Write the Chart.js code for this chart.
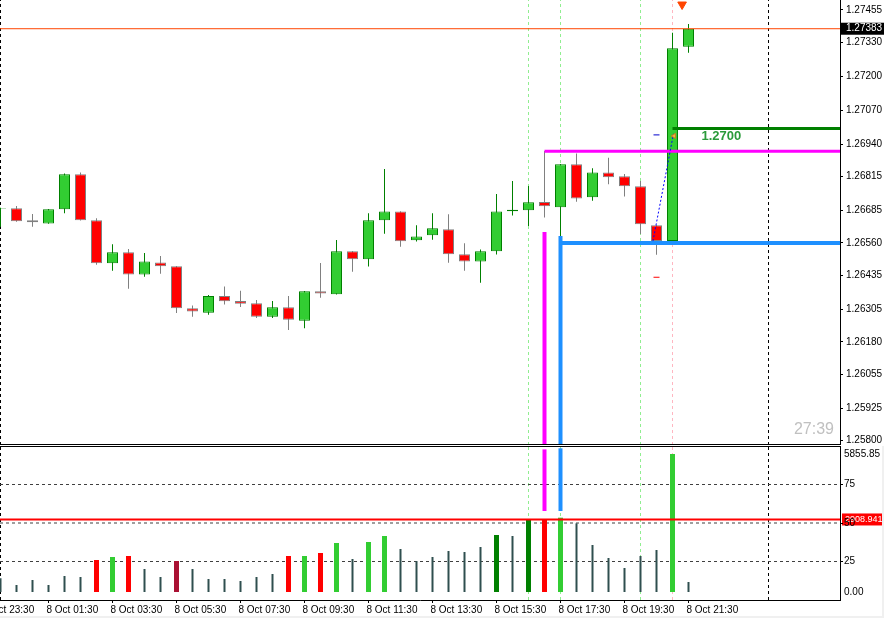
<!DOCTYPE html>
<html>
<head>
<meta charset="utf-8">
<script src="https://cdn.jsdelivr.net/npm/chart.js@4.4.1/dist/chart.umd.min.js"></script>
<style>
  html, body { margin: 0; padding: 0; background: #fff; }
  #wrap { position: relative; width: 884px; height: 618px; overflow: hidden; background: #fff; }
  #pricechart { position: absolute; left: 0; top: 0; }
  #volchart { position: absolute; left: 0; top: 446px; }
  #edgeB { position: absolute; left: 0; top: 616px; width: 884px; height: 2px; background: #f0f0f0; }
  #edgeR { position: absolute; left: 882px; top: 446px; width: 2px; height: 172px; background: #f0f0f0; }
</style>
</head>
<body>
<div id="wrap">
  <canvas id="pricechart" width="884" height="445"></canvas>
  <canvas id="volchart" width="884" height="172"></canvas>
  <div id="edgeB"></div>
  <div id="edgeR"></div>
</div>
<script>
// M30 bars, 8 Oct 00:00 .. 21:30
var opens  = [1.26692,1.26693,1.26647,1.26635,1.26689,1.26824,1.26647,1.26482,1.26524,1.26439,1.26485,1.26470,1.26309,1.26292,1.26356,1.26337,1.26328,1.26276,1.26313,1.26261,1.26374,1.26363,1.26528,1.26497,1.26647,1.26681,1.26570,1.26589,1.26612,1.26516,1.26489,1.26528,1.26682,1.26685,1.26717,1.26697,1.26862,1.26735,1.26831,1.26816,1.26778,1.26628,1.26567,1.27314];
var closes = [1.26694,1.26643,1.26639,1.26689,1.26824,1.26647,1.26482,1.26524,1.26439,1.26489,1.26470,1.26309,1.26296,1.26356,1.26336,1.26326,1.26276,1.26313,1.26265,1.26374,1.26366,1.26528,1.26497,1.26647,1.26681,1.26566,1.26585,1.26616,1.26516,1.26489,1.26528,1.26681,1.26687,1.26716,1.26701,1.26862,1.26731,1.26831,1.26812,1.26778,1.26632,1.26567,1.27308,1.27383];
var highs  = [1.26695,1.26702,1.26671,1.26690,1.26827,1.26831,1.26655,1.26555,1.26537,1.26521,1.26510,1.26471,1.26319,1.26360,1.26392,1.26376,1.26341,1.26337,1.26356,1.26375,1.26483,1.26571,1.26529,1.26674,1.26844,1.26682,1.26628,1.26674,1.26670,1.26559,1.26535,1.26748,1.26798,1.26779,1.26913,1.26863,1.26904,1.26847,1.26887,1.26825,1.26798,1.26629,1.27368,1.27401];
var lows   = [1.26622,1.26641,1.26622,1.26634,1.26674,1.26646,1.26476,1.26453,1.26384,1.26430,1.26441,1.26291,1.26276,1.26284,1.26323,1.26314,1.26271,1.26271,1.26225,1.26232,1.26349,1.26362,1.26449,1.26469,1.26595,1.26545,1.26565,1.26572,1.26484,1.26453,1.26407,1.26515,1.26665,1.26625,1.26658,1.26587,1.26718,1.26722,1.26785,1.26738,1.26594,1.26514,1.26566,1.27291];

var volumes = [549,281,481,281,642,602,1283,1404,1444,922,602,1243,922,521,521,441,602,722,1444,1444,1564,1965,1324,2005,2246,1725,1243,1404,1644,1604,1805,2286,2246,2900,2900,2981,2754,1885,1364,963,1444,1685,5535,401];
// n = plain, r = red, g = lime, dg = dark green, cr = crimson
var volKinds = ['n','n','n','n','n','n','r','g','r','n','n','cr','n','n','n','n','n','n','r','g','r','g','n','g','g','n','n','n','n','n','n','dg','n','dg','r','g','n','n','n','n','n','n','g','n'];

var priceTicks = [1.27455,1.27330,1.27200,1.27070,1.26940,1.26815,1.26685,1.26560,1.26435,1.26305,1.26180,1.26055,1.25925,1.25800];
var timeTickBars = [-1,3,7,11,15,19,23,27,31,35,39,43];
var timeLabels = ['7 Oct 23:30','8 Oct 01:30','8 Oct 03:30','8 Oct 05:30','8 Oct 07:30','8 Oct 09:30','8 Oct 11:30','8 Oct 13:30','8 Oct 15:30','8 Oct 17:30','8 Oct 19:30','8 Oct 21:30'];
var oscTicks = [25,50,75];

var bidPrice = 1.27383;
var targetLevel = 1.27000;
var magentaLevel = 1.26912;
var blueLevel = 1.26560;
var volLevel = 2908.941;
var volTop = 5855.85;

var xMin = -0.03125, xMax = 52.46875;
var yMin = 1.257834, yMax = 1.274934;
var volMin = -320.9;

Chart.defaults.font.family = '"Liberation Sans", Arial, sans-serif';
Chart.defaults.font.size = 10;
Chart.defaults.color = '#000';

function seg(x1, y1, x2, y2, color, width, dash, order, axis) {
  return {
    type: 'line',
    data: [{x: x1, y: y1}, {x: x2, y: y2}],
    borderColor: color, borderWidth: width, borderDash: dash || [],
    pointRadius: 0, fill: false, order: order, yAxisID: axis || 'y'
  };
}

function separators(lo, hi, axis) {
  return [
    seg(0, lo, 0, hi, '#000', 1, [3, 3], 20, axis),
    seg(48, lo, 48, hi, '#000', 1, [3, 3], 20, axis),
    seg(33, lo, 33, hi, '#90ee90', 1, [3, 3], 20, axis),
    seg(35, lo, 35, hi, '#90ee90', 1, [3, 3], 20, axis),
    seg(40, lo, 40, hi, '#90ee90', 1, [3, 3], 20, axis),
    seg(42, lo, 42, hi, '#ffb6c1', 1, [3, 3], 20, axis)
  ];
}

function noPad(s) {
  s.paddingTop = 0; s.paddingBottom = 0; s.paddingLeft = 0; s.paddingRight = 0;
}

var bull = opens.map(function (o, i) { return closes[i] >= o; });

var mainDatasets = separators(yMin, yMax).concat([
  {
    type: 'bar',
    data: highs.map(function (h, i) { return {x: i, y: [lows[i], h]}; }),
    backgroundColor: bull.map(function (b) { return b ? '#008000' : '#808080'; }),
    borderWidth: 0, barThickness: 1, grouped: false, inflateAmount: 0, order: 6
  },
  {
    type: 'bar',
    data: opens.map(function (o, i) { return {x: i, y: [o, closes[i]]}; }),
    backgroundColor: bull.map(function (b) { return b ? '#32cd32' : '#ff0000'; }),
    borderColor: bull.map(function (b) { return b ? '#008000' : '#808080'; }),
    borderWidth: 1, borderSkipped: false, barThickness: 11, grouped: false, inflateAmount: 0, order: 5
  },
  seg(xMin, bidPrice, xMax, bidPrice, '#ff4500', 1, [], 4),
  seg(34, 1.26602, 34, yMin, '#ff00ff', 4, [], 3),
  seg(34, magentaLevel, xMax, magentaLevel, '#ff00ff', 3, [], 3),
  seg(35, 1.26587, 35, yMin, '#1e90ff', 4, [], 3),
  seg(35, blueLevel, xMax, blueLevel, '#1e90ff', 4, [], 3),
  seg(42, targetLevel, xMax, targetLevel, '#008000', 3, [], 3),
  seg(40.78, 1.26567, 42.06, 1.26979, '#0000ff', 1, [2, 2], 2),
  {
    type: 'scatter',
    data: [{x: 41, y: 1.26975}],
    pointStyle: 'line', pointRadius: 3, borderColor: '#0000cc', borderWidth: 1, order: 1
  },
  {
    type: 'scatter',
    data: [{x: 41, y: 1.26428}],
    pointStyle: 'line', pointRadius: 3, borderColor: '#ff0000', borderWidth: 1, order: 1
  },
  {
    type: 'scatter',
    data: [{x: 42.6, y: 1.27476}],
    pointStyle: 'triangle', rotation: 180, pointRadius: 5,
    backgroundColor: '#ff4500', borderColor: '#ff4500', borderWidth: 1, order: 1, clip: false
  },
  {
    type: 'scatter',
    data: [{x: 42.1, y: 1.26971}],
    pointStyle: 'triangle', rotation: 270, pointRadius: 3,
    backgroundColor: '#f0b040', borderColor: '#c08020', borderWidth: 1, order: 1
  }
]);

var mainExtras = {
  id: 'mainExtras',
  afterDraw: function (chart) {
    var ctx = chart.ctx, ys = chart.scales.y, xs = chart.scales.x, a = chart.chartArea;
    ctx.save();
    // bottom frame line
    ctx.fillStyle = '#000';
    ctx.fillRect(0, a.bottom - 1, a.right, 1);
    // bid price box
    var py = ys.getPixelForValue(bidPrice);
    ctx.fillRect(a.right + 1, py - 6, 44, 12);
    ctx.fillStyle = '#fff';
    ctx.font = '10px "Liberation Sans"';
    ctx.textBaseline = 'middle';
    ctx.textAlign = 'left';
    ctx.fillText(bidPrice.toFixed(5), a.right + 6, py);
    // level text
    ctx.fillStyle = '#2a9a3a';
    ctx.font = 'bold 13px "Liberation Sans"';
    ctx.fillText(targetLevel.toFixed(4), xs.getPixelForValue(42) + 29, ys.getPixelForValue(targetLevel) + 8);
    // bar countdown
    ctx.fillStyle = '#c0c0c0';
    ctx.font = '16px "Liberation Sans"';
    ctx.textAlign = 'right';
    ctx.fillText('27:39', a.right - 6, a.bottom - 15);
    ctx.restore();
  }
};

new Chart(document.getElementById('pricechart'), {
  type: 'bar',
  data: {datasets: mainDatasets},
  options: {
    responsive: false, animation: false, events: [],
    layout: {padding: 0, autoPadding: false},
    plugins: {legend: {display: false}, tooltip: {enabled: false}},
    scales: {
      x: {type: 'linear', min: xMin, max: xMax, offset: false, display: false},
      y: {
        type: 'linear', position: 'right', min: yMin, max: yMax,
        afterBuildTicks: function (s) { s.ticks = priceTicks.map(function (v) { return {value: v}; }); },
        afterFit: function (s) { s.width = 44; noPad(s); },
        ticks: {autoSkip: false, padding: 3, color: '#000', font: {size: 10},
                callback: function (v) { return Number(v).toFixed(5); }},
        grid: {drawOnChartArea: false, drawTicks: true, tickLength: 3, color: '#000'},
        border: {display: true, color: '#000', width: 1}
      }
    }
  },
  plugins: [mainExtras]
});

// ----- volume window -----
var volColors = {r: '#ff0000', g: '#32cd32', dg: '#008000', cr: '#aa1133'};
var thinVol = [], thickVol = [], thickCol = [];
volumes.forEach(function (v, i) {
  if (volKinds[i] === 'n') { thinVol.push({x: i, y: v}); }
  else { thickVol.push({x: i, y: v}); thickCol.push(volColors[volKinds[i]]); }
});

var volDatasets = separators(0, 100, 'osc').concat(
  oscTicks.map(function (t) { return seg(xMin, t, xMax, t, '#404040', 1, [3, 3], 15, 'osc'); }),
  [
    {type: 'bar', data: thinVol, yAxisID: 'vol', backgroundColor: '#2f4f4f', borderWidth: 0,
     barThickness: 2, grouped: false, inflateAmount: 0, order: 6},
    {type: 'bar', data: thickVol, yAxisID: 'vol', backgroundColor: thickCol, borderWidth: 0,
     barThickness: 5, grouped: false, inflateAmount: 0, order: 5},
    seg(xMin, volLevel, xMax, volLevel, '#ff0000', 2, [], 2, 'vol'),
    seg(34, 57.8, 34, 97.8, '#ff00ff', 4, [], 2, 'osc'),
    seg(35, 57.8, 35, 98.5, '#1e90ff', 4, [], 2, 'osc')
  ]
);

var volExtras = {
  id: 'volExtras',
  beforeDraw: function (chart) {
    var ctx = chart.ctx, vs = chart.scales.vol, a = chart.chartArea;
    var py = vs.getPixelForValue(volLevel);
    ctx.save();
    ctx.fillStyle = '#ff0000';
    ctx.fillRect(a.right + 2, py - 6, 44, 12);
    ctx.fillStyle = '#fff';
    ctx.font = '9px "Liberation Sans"';
    ctx.textBaseline = 'middle';
    ctx.fillText(volLevel.toFixed(3), a.right + 5, py);
    ctx.restore();
  },
  afterDraw: function (chart) {
    var ctx = chart.ctx, vs = chart.scales.vol, a = chart.chartArea;
    ctx.save();
    ctx.fillStyle = '#000';
    ctx.fillRect(0, a.top, a.right + 1, 1);
    ctx.font = '10px "Liberation Sans"';
    ctx.textBaseline = 'middle';
    ctx.fillText(volTop.toFixed(2), a.right + 4, a.top + 8);
    ctx.fillText((0).toFixed(2), a.right + 4, vs.getPixelForValue(0));
    ctx.restore();
  }
};

new Chart(document.getElementById('volchart'), {
  type: 'bar',
  data: {datasets: volDatasets},
  options: {
    responsive: false, animation: false, events: [],
    layout: {padding: 0, autoPadding: false},
    plugins: {legend: {display: false}, tooltip: {enabled: false}},
    scales: {
      x: {
        type: 'linear', min: xMin, max: xMax, offset: false, position: 'bottom',
        afterBuildTicks: function (s) { s.ticks = timeTickBars.map(function (v) { return {value: v}; }); },
        afterFit: function (s) { s.height = 18; noPad(s); },
        ticks: {autoSkip: false, maxRotation: 0, align: 'start', labelOffset: -2, padding: 1,
                color: '#000', font: {size: 10},
                callback: function (v, i) { return timeLabels[i]; }},
        grid: {drawOnChartArea: false, drawTicks: true, tickLength: 3, color: '#000', offset: false},
        border: {display: true, color: '#000', width: 1}
      },
      osc: {
        type: 'linear', position: 'right', min: 0, max: 100,
        afterBuildTicks: function (s) { s.ticks = oscTicks.map(function (v) { return {value: v}; }); },
        afterFit: function (s) { s.width = 44; noPad(s); },
        ticks: {autoSkip: false, padding: 1, color: '#000', font: {size: 10},
                callback: function (v) { return String(v); }},
        grid: {drawOnChartArea: false, drawTicks: true, tickLength: 3, color: '#000'},
        border: {display: true, color: '#000', width: 1}
      },
      vol: {type: 'linear', display: false, min: volMin, max: volTop}
    }
  },
  plugins: [volExtras]
});
</script>
</body>
</html>
